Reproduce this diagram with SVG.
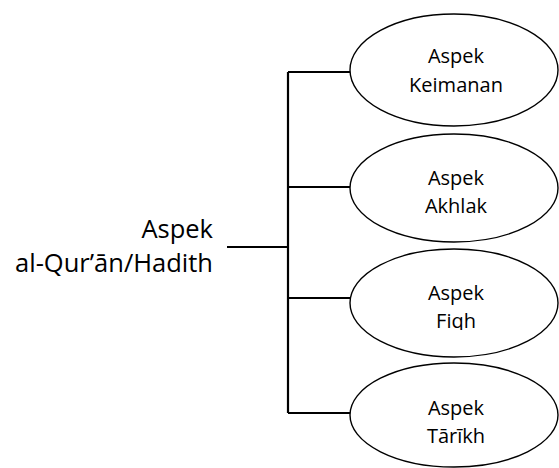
<svg xmlns="http://www.w3.org/2000/svg" width="559" height="468" viewBox="0 0 559 468">
<style>
.e{fill:#fff;stroke:#000;stroke-width:1.4}
.c{stroke:#000;stroke-width:2.2;fill:none}
.t{font-family:"Open Sans","Noto Sans",sans-serif;font-size:20px;fill:#000;text-anchor:middle}
.m{font-family:"Open Sans","Noto Sans",sans-serif;font-size:25.5px;fill:#000;text-anchor:end}
</style>
<defs><clipPath id="cf"><rect x="350" y="250" width="209" height="80"/></clipPath></defs>
<rect width="559" height="468" fill="#fff"/>
<g id="connectors">
<path class="c" d="M227 247H288M288 72V413M288 72H350M288 187H350M288 298H350M288 413H350"/>
</g>
<g id="root"><text class="m" x="213" y="238">Aspek</text><text class="m" x="213" y="272">al-Qur’ān/Hadith</text></g>
<g id="keimanan"><ellipse class="e" cx="454" cy="70" rx="104" ry="56"/><text class="t" x="456" y="63">Aspek</text><text class="t" x="456" y="92">Keimanan</text></g>
<g id="akhlak"><ellipse class="e" cx="454" cy="188" rx="104" ry="54"/><text class="t" x="456" y="185">Aspek</text><text class="t" x="456" y="213">Akhlak</text></g>
<g id="fiqh"><ellipse class="e" cx="454" cy="303" rx="104" ry="54"/><text class="t" x="456" y="300">Aspek</text><text class="t" x="456" y="328" clip-path="url(#cf)">Fiqh</text></g>
<g id="tarikh"><ellipse class="e" cx="454" cy="415" rx="104" ry="52"/><text class="t" x="456" y="415">Aspek</text><text class="t" x="456" y="443">Tārīkh</text></g>
</svg>
